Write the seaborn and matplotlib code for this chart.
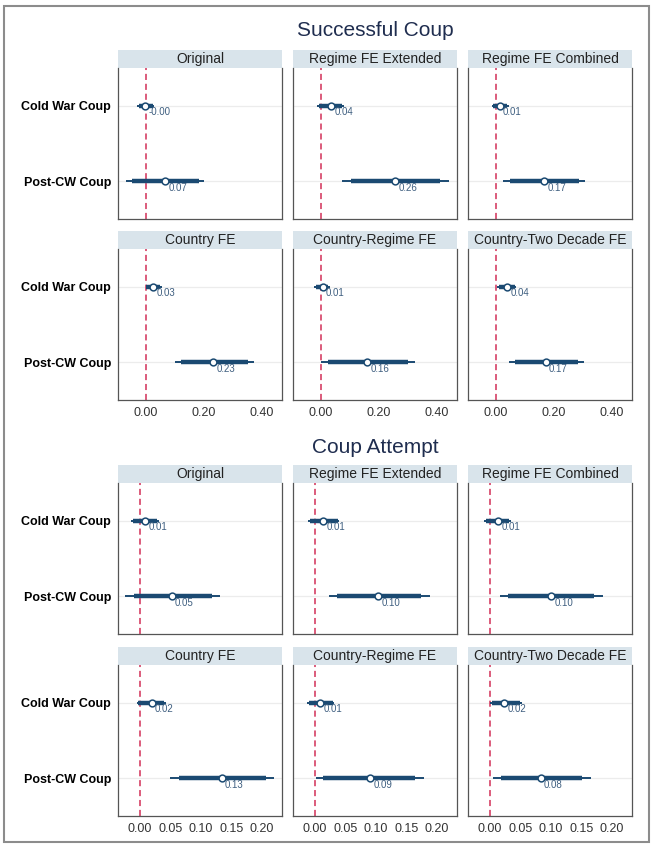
import pandas as pd
import numpy as np
import seaborn as sns
import matplotlib.pyplot as plt
from matplotlib.patches import Rectangle

# models / terms
models = ["Original", "Regime FE Extended", "Regime FE Combined",
          "Country FE", "Country-Regime FE", "Country-Two Decade FE"]
terms = ["Cold War Coup", "Post-CW Coup"]

# Successful coup: point estimates, 95% (thin) and 90% (thick) intervals
succ_cw_est = [-0.001, 0.035, 0.014, 0.026, 0.007, 0.039]
succ_cw_lo95 = [-0.029, -0.012, -0.014, 0.000, -0.023, 0.006]
succ_cw_hi95 = [0.029, 0.080, 0.046, 0.055, 0.032, 0.070]
succ_cw_lo90 = [-0.024, -0.005, -0.008, 0.003, -0.017, 0.011]
succ_cw_hi90 = [0.026, 0.074, 0.041, 0.050, 0.027, 0.066]
succ_post_est = [0.068, 0.258, 0.167, 0.234, 0.161, 0.172]
succ_post_lo95 = [-0.068, 0.075, 0.024, 0.100, 0.000, 0.046]
succ_post_hi95 = [0.201, 0.442, 0.309, 0.374, 0.327, 0.304]
succ_post_lo90 = [-0.046, 0.106, 0.050, 0.122, 0.024, 0.067]
succ_post_hi90 = [0.184, 0.410, 0.287, 0.352, 0.300, 0.285]

# Coup attempt
att_cw_est = [0.008, 0.014, 0.013, 0.019, 0.009, 0.023]
att_cw_lo95 = [-0.014, -0.011, -0.010, -0.005, -0.013, 0.000]
att_cw_hi95 = [0.031, 0.040, 0.035, 0.042, 0.032, 0.052]
att_cw_lo90 = [-0.011, -0.008, -0.007, -0.003, -0.010, 0.003]
att_cw_hi90 = [0.028, 0.037, 0.032, 0.039, 0.029, 0.049]
att_post_est = [0.052, 0.104, 0.100, 0.134, 0.090, 0.083]
att_post_lo95 = [-0.024, 0.023, 0.016, 0.049, 0.001, 0.005]
att_post_hi95 = [0.131, 0.188, 0.185, 0.220, 0.179, 0.165]
att_post_lo90 = [-0.010, 0.036, 0.030, 0.064, 0.014, 0.018]
att_post_hi90 = [0.118, 0.174, 0.171, 0.206, 0.164, 0.151]

succ_ticks = [0.0, 0.2, 0.4]
att_ticks = [0.0, 0.05, 0.10, 0.15, 0.20]


def build_df(cw, post):
    rows = []
    for term, y, vals in [(terms[0], 1, cw), (terms[1], 2, post)]:
        est, lo95, hi95, lo90, hi90 = vals
        for i, m in enumerate(models):
            rows.append(dict(model=m, term=term, y=y, est=est[i], lo95=lo95[i],
                             hi95=hi95[i], lo90=lo90[i], hi90=hi90[i]))
    return pd.DataFrame(rows)


df_succ = build_df((succ_cw_est, succ_cw_lo95, succ_cw_hi95, succ_cw_lo90, succ_cw_hi90),
                   (succ_post_est, succ_post_lo95, succ_post_hi95, succ_post_lo90, succ_post_hi90))
df_att = build_df((att_cw_est, att_cw_lo95, att_cw_hi95, att_cw_lo90, att_cw_hi90),
                  (att_post_est, att_post_lo95, att_post_hi95, att_post_lo90, att_post_hi90))

sns.set_theme(style="white")
plt.rcParams['font.family'] = ['Liberation Sans', 'DejaVu Sans']
plt.rcParams['axes.unicode_minus'] = False

navy = "#1b4a72"
red = "#d22f57"
strip_col = "#d9e4eb"
label_col = "#3f5f80"
spine_col = "#555555"

W, H = 655, 846
fig = plt.figure(figsize=(W / 100, H / 100), dpi=100)


def px_axes(left, top, width, height):
    return fig.add_axes([left / W, 1 - (top + height) / H, width / W, height / H])


col_left = [118, 293, 468]
panel_w = 164
strip_h = 18
panel_h = 151


def draw_section(df, title, title_y, strip_tops, xlim, xticks, fmt):
    fig.text(375 / W, 1 - title_y / H, title, ha='center', va='center',
             fontsize=15, color="#1f2d4f")
    for i, m in enumerate(models):
        r, c = divmod(i, 3)
        top = strip_tops[r]
        sax = px_axes(col_left[c], top, panel_w, strip_h)
        sax.set_facecolor(strip_col)
        sax.set_xticks([])
        sax.set_yticks([])
        for s in sax.spines.values():
            s.set_visible(False)
        sax.text(0.5, 0.5, m, ha='center', va='center', fontsize=10,
                 color="#222222", transform=sax.transAxes)

        ax = px_axes(col_left[c], top + strip_h, panel_w, panel_h)
        sub = df[df['model'] == m]
        for y in [1, 2]:
            ax.axhline(y, color="#ececec", lw=0.9, zorder=0)
        ax.axvline(0, color=red, lw=1.1, dashes=(4, 2.5), zorder=1)
        ax.hlines(sub['y'], sub['lo95'], sub['hi95'], color=navy, lw=1.4, zorder=2)
        ax.hlines(sub['y'], sub['lo90'], sub['hi90'], color=navy, lw=3.2, zorder=3)
        sns.scatterplot(data=sub, x='est', y='y', ax=ax, color='white',
                        edgecolor=navy, s=24, linewidth=1.1, zorder=4, legend=False)
        for _, row in sub.iterrows():
            ax.annotate(f"{row['est']:.2f}", (row['est'], row['y']),
                        xytext=(2.5, -1), textcoords='offset points',
                        ha='left', va='top', fontsize=7, color=label_col, zorder=5)
        ax.set_xlim(*xlim)
        ax.set_ylim(2.5, 0.5)
        ax.set_xlabel('')
        ax.set_ylabel('')
        ax.set_yticks([1, 2])
        ax.set_xticks(xticks)
        if c == 0:
            ax.set_yticklabels(terms, fontsize=9, fontweight='bold', color="black")
            ax.tick_params(axis='y', length=4, width=0.8, color=spine_col, pad=1)
        else:
            ax.set_yticklabels([])
            ax.tick_params(axis='y', length=0)
        if r == 1:
            ax.set_xticklabels([fmt.format(t) for t in xticks], fontsize=9, color="#333333")
            ax.tick_params(axis='x', length=3, width=0.8, color=spine_col, pad=2)
        else:
            ax.set_xticklabels([])
            ax.tick_params(axis='x', length=0)
        ax.spines['top'].set_visible(False)
        for s in ['left', 'right', 'bottom']:
            ax.spines[s].set_color(spine_col)
            ax.spines[s].set_linewidth(0.9)


draw_section(df_succ, "Successful Coup", 30, [50, 231], (-0.095, 0.47), succ_ticks, "{:.2f}")
draw_section(df_att, "Coup Attempt", 447, [465, 647], (-0.036, 0.233), att_ticks, "{:.2f}")

fig.patches.append(Rectangle((4 / W, 1 - 842 / H), 645 / W, 836 / H, transform=fig.transFigure,
                             fill=False, edgecolor="#8c8c8c", lw=1.5))

plt.savefig("out.png", dpi=100)
